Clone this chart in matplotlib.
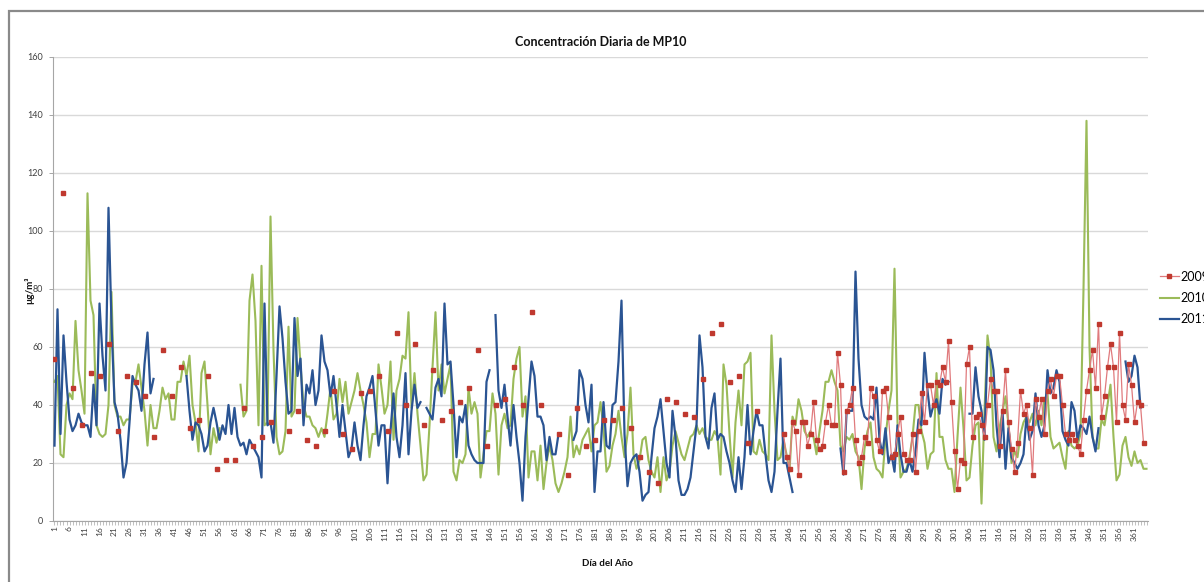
import matplotlib
matplotlib.use('Agg')
import matplotlib.pyplot as plt
import matplotlib.patches as patches
import numpy as np

plt.rcParams['font.family'] = ['Lato', 'DejaVu Sans']

N = None

# Concentracion diaria MP10 por dia del ano (None = sin dato)
mp10_2009 = [
    56, N, N, 113, N, N, 46, N, N, 33,
    N, N, 51, N, N, 50, N, N, 61, N,
    N, 31, N, N, 50, N, N, 48, N, N,
    43, N, N, 29, N, N, 59, N, N, 43,
    N, N, 53, N, N, 32, N, N, 35, N,
    N, 50, N, N, 18, N, N, 21, N, N,
    21, N, N, 39, N, N, 26, N, N, 29,
    N, N, 34, N, N, N, N, N, 31, N,
    N, 38, N, N, 28, N, N, 26, N, N,
    31, N, N, 45, N, N, 30, N, N, 25,
    N, N, 44, N, N, 45, N, N, 50, N,
    N, 31, N, N, 65, N, N, 40, N, N,
    61, N, N, 33, N, N, 52, N, N, 35,
    N, N, 38, N, N, 41, N, N, 46, N,
    N, 59, N, N, 26, N, N, 40, N, N,
    42, N, N, 53, N, N, 40, N, N, 72,
    N, N, 40, N, N, N, N, N, 30, N,
    N, 16, N, N, 39, N, N, 26, N, N,
    28, N, N, 35, N, N, 35, N, N, 39,
    N, N, 32, N, N, 22, N, N, 17, N,
    N, 13, N, N, 42, N, N, 41, N, N,
    37, N, N, 36, N, N, 49, N, N, 65,
    N, N, 68, N, N, 48, N, N, 50, N,
    N, 27, N, N, 38, N, N, N, N, N,
    N, N, N, 30, 22, 18, 34, 31, 16, 34,
    34, 26, 30, 41, 28, 25, 26, 34, 40, 33,
    33, 58, 47, 17, 38, 40, 46, 28, 20, 22,
    29, 27, 46, 43, 28, 24, 45, 46, 36, 22,
    23, 30, 36, 23, 21, 21, 30, 17, 31, 44,
    34, 47, 47, 40, 48, 47, 53, 48, 62, 41,
    24, 11, 21, 20, 54, 60, 29, 36, 37, 33,
    29, 40, 49, 45, 45, 26, 38, 52, 34, 25,
    17, 27, 45, 37, 40, 32, 16, 42, 36, 42,
    30, 45, 49, 43, 50, 50, 40, 30, 28, 30,
    28, 26, 23, 35, 45, 52, 59, 46, 68, 36,
    43, 53, 61, 53, 34, 65, 40, 35, 54, 47,
    34, 41, 40, 27, N,
]

mp10_2010 = [
    48, 50, 23, 22, 40, 44, 42, 69, 52, 45,
    37, 113, 76, 71, 33, 30, 29, 30, 40, 79,
    40, 36, 36, 33, 35, 35, 47, 48, 54, 46,
    38, 26, 40, 32, 32, 38, 46, 42, 44, 35,
    35, 48, 48, 55, 50, 57, 40, 34, 24, 51,
    55, 40, 23, 32, 27, 32, N, N, N, N,
    N, N, 47, 36, 38, 76, 85, 69, 33, 88,
    33, 34, 105, 59, 29, 23, 24, 31, 67, 36,
    38, 70, 54, 40, 36, 36, 33, 32, 29, 32,
    29, 37, 46, 35, 37, 49, 41, 48, 37, 41,
    45, 51, 45, 40, 34, 22, 30, 30, 54, 46,
    37, 40, 55, 28, 45, 49, 57, 56, 72, 39,
    51, 37, 26, 14, 16, 33, 53, 72, 45, 54,
    44, 49, 54, 17, 14, 21, 20, 23, 46, 37,
    41, 37, 15, 23, 31, 31, 44, 37, 16, 33,
    37, 32, 33, 49, 56, 60, 36, 43, 15, 24,
    24, 14, 26, 11, 20, 26, 21, 13, 10, 13,
    17, 22, 36, 22, 26, 23, 28, 30, 32, 24,
    33, 34, 41, 32, 17, 19, 26, 30, 38, 29,
    22, 30, 46, 23, 18, 21, 28, 29, 21, 17,
    15, 22, 10, 22, 14, 17, 26, 31, 27, 23,
    21, 25, 29, 30, 33, 30, 32, 29, 28, 28,
    31, 29, 16, 54, 47, 30, 15, 34, 45, 33,
    54, 55, 58, 24, 23, 28, 24, 23, 21, 64,
    38, 21, 22, 28, 23, 17, 36, 33, 42, 38,
    31, 29, 31, 29, 23, 31, 38, 48, 48, 52,
    48, 45, 26, 24, 29, 28, 30, 24, 22, 11,
    25, 31, 34, 22, 18, 17, 15, 29, 38, 45,
    87, 34, 15, 17, 18, 22, 29, 40, 40, 31,
    27, 18, 23, 24, 51, 29, 29, 21, 18, 18,
    10, 29, 46, 32, 14, 15, 26, 33, 34, 6,
    38, 64, 56, 29, 24, 32, 38, 43, 33, 20,
    24, 22, 30, 34, 36, 34, 37, 33, 38, 33,
    42, 44, 29, 25, 26, 27, 22, 18, 31, 26,
    25, 26, 30, 80, 138, 60, 29, 25, 25, 35,
    33, 40, 47, 29, 14, 16, 26, 29, 22, 19,
    24, 20, 21, 18, 18,
]

mp10_2011 = [
    26, 73, 30, 64, 48, 35, 31, 33, 37, 34,
    33, 33, 29, 47, 33, 75, 57, 45, 108, 68,
    41, 37, 28, 15, 20, 34, 50, 47, 45, 38,
    54, 65, 44, 49, N, N, N, N, N, N,
    N, N, N, N, 50, 38, 28, 34, 33, 30,
    24, 26, 34, 39, 34, 28, 33, 30, 40, 30,
    39, 29, 26, 27, 23, 28, 26, 24, 22, 15,
    75, 33, 34, 27, 50, 74, 63, 48, 37, 38,
    70, 50, 56, 33, 47, 44, 52, 40, 45, 64,
    55, 52, 43, 50, 40, 29, 40, 31, 22, 25,
    34, 26, 21, 33, 43, 46, 50, 38, 26, 33,
    33, 13, 31, 44, 29, 22, 33, 51, 23, 38,
    47, 39, 41, N, 39, 37, 35, 46, 49, 43,
    75, 54, 55, 40, 22, 36, 34, 40, 26, 23,
    21, 20, 20, 20, 48, 52, N, 71, 45, 39,
    47, 36, 26, 40, 29, 20, 7, 29, 42, 55,
    50, 36, 36, 33, 21, 29, 23, 23, 30, N,
    N, N, N, 28, 31, 52, 49, 40, 34, 47,
    10, 24, 24, 41, 26, 25, 40, 41, 55, 76,
    30, 12, 20, 22, 23, 17, 7, 9, 10, 22,
    32, 36, 42, 31, 20, 15, 38, 29, 14, 9,
    9, 11, 15, 24, 33, 64, 53, 29, 25, 39,
    44, 28, 30, 29, 24, 20, 14, 10, 22, 11,
    22, 40, 23, 31, 38, 33, 33, 23, 14, 10,
    17, 38, 56, 20, 20, 15, 10, N, N, N,
    N, N, N, N, N, N, N, N, N, N,
    N, N, 25, 16, 37, 38, 38, 86, 56, 40,
    36, 35, 36, 35, 46, 28, 23, 32, 20, 23,
    17, 33, 23, 17, 17, 21, 17, 24, 35, 33,
    58, 45, 36, 40, 42, 37, 49, 47, 48, N,
    N, N, N, N, N, 37, 37, 53, 43, 38,
    28, 60, 59, 52, 33, 22, 38, 18, 32, 22,
    20, 18, 20, 23, 36, 28, 31, 44, 33, 29,
    33, 52, 44, 46, 52, 48, 31, 28, 26, 41,
    38, 28, 33, 32, 30, 36, 29, 24, 32, N,
    N, N, N, N, N, N, N, 55, 48, 50,
    57, 53, 39, N, N,
]

dias = np.arange(1, len(mp10_2010) + 1)


def to_arr(v):
    return np.array([np.nan if x is None else x for x in v], dtype=float)


fig = plt.figure(figsize=(12.04, 5.82), dpi=100)
ax = fig.add_axes([53/1204, 1 - 521/582, (1148 - 53)/1204, (521 - 57)/582])

ax.plot(dias, to_arr(mp10_2010), color='#9bbb59', lw=1.5, label='2010', zorder=3)
ax.plot(dias, to_arr(mp10_2011), color='#2a5493', lw=1.6, label='2011', zorder=4)
ax.plot(dias, to_arr(mp10_2009), color='#e07a7d', lw=0.9, marker='s', ms=2.6,
        mfc='#c0392f', mec='#c0392f', label='2009', zorder=5)

ax.set_xlim(0.5, 365.5)
ax.set_ylim(0, 160)
ax.set_yticks(np.arange(0, 161, 20))
ax.set_xticks(dias)
ax.set_xticklabels([str(d) if (d - 1) % 5 == 0 else '' for d in dias], rotation=90)
ax.tick_params(axis='x', length=3, width=0.5, color='#a6a6a6', labelsize=6, labelcolor='#404040', pad=1)
ax.tick_params(axis='y', length=3, width=0.7, color='#a6a6a6', labelsize=6.5, labelcolor='#404040', pad=4)
ax.grid(axis='y', color='#d9d9d9', lw=1)
ax.set_axisbelow(True)
for s in ['top', 'right']:
    ax.spines[s].set_visible(False)
for s in ['left', 'bottom']:
    ax.spines[s].set_color('#a6a6a6')
    ax.spines[s].set_linewidth(0.8)

fig.text(0.499, 1 - 42/582, 'Concentración Diaria de MP10', ha='center', va='center',
         fontsize=9, fontweight='bold', color='#111111')
fig.text(608/1204, 1 - 563/582, 'Día del Año', ha='center', va='center',
         fontsize=7, fontweight='bold', color='#111111')
fig.text(29/1204, 1 - 290/582, 'µg/m³', ha='center', va='center', rotation=90,
         fontsize=7, fontweight='bold', color='#111111')

# leyenda a la derecha (cortada por el borde, como en el original)
h, l = ax.get_legend_handles_labels()
order = [2, 0, 1]
fig.legend([h[i] for i in order], [l[i] for i in order], loc='center left',
           bbox_to_anchor=(1155/1204, 1 - 298/582), frameon=False, fontsize=9,
           handlelength=1.5, handletextpad=0.15, labelspacing=0.75, borderaxespad=0)

fig.patches.append(patches.Rectangle((9/1204, -0.1), 1.2, (582 - 11)/582 + 0.1,
                                     transform=fig.transFigure, fill=False,
                                     edgecolor='#8a8a8a', lw=1.6))

fig.savefig('out.png', dpi=100)
